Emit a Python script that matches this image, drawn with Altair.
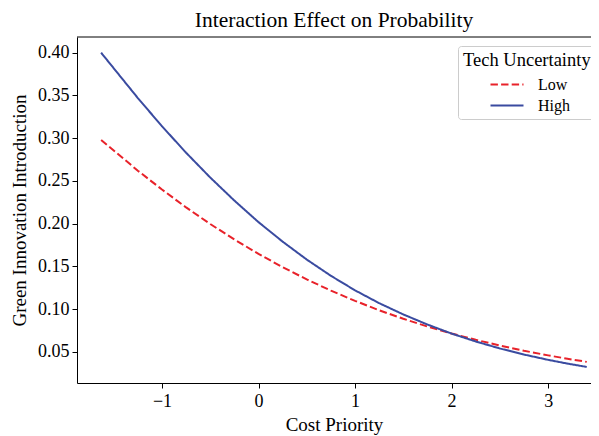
import altair as alt
import pandas as pd

cost_priority = [-1.63, -1.25, -1.0, -0.75, -0.5, -0.25, 0.0, 0.25, 0.5, 0.75, 1.0,
                 1.25, 1.5, 1.75, 2.0, 2.25, 2.5, 2.75, 3.0, 3.2, 3.4]
low_vals = [0.298, 0.262, 0.240, 0.219, 0.1996, 0.1815, 0.1647, 0.1491, 0.1348, 0.1217,
            0.1097, 0.0987, 0.0887, 0.0797, 0.0715, 0.0641, 0.0574, 0.0513, 0.0459, 0.0420, 0.0383]
high_vals = [0.400, 0.347, 0.314, 0.283, 0.254, 0.227, 0.2018, 0.179, 0.158, 0.139,
             0.122, 0.107, 0.0938, 0.0820, 0.0714, 0.0622, 0.0540, 0.0469, 0.0407, 0.0363, 0.0324]
series_names = ["Low", "High"]
series_colors = ["#e8222a", "#3a4ba0"]
x_ticks = [-1, 0, 1, 2, 3]
y_ticks = [0.05, 0.10, 0.15, 0.20, 0.25, 0.30, 0.35, 0.40]
x_domain = [-1.88, 3.444]
y_domain = [0.0136, 0.4184]

rows = []
for name, vals in zip(series_names, [low_vals, high_vals]):
    for xv, yv in zip(cost_priority, vals):
        rows.append({"x": xv, "y": yv, "series": name})
df = pd.DataFrame(rows)

FONT = "Liberation Serif"

xscale = alt.Scale(domain=x_domain, nice=False, zero=False)
yscale = alt.Scale(domain=y_domain, nice=False, zero=False)

legend = alt.Legend(title="Tech Uncertainty", orient="none",
                    legendX=381, legendY=9,
                    symbolType="M-1.5,0H1.5", symbolSize=484,
                    symbolStrokeWidth=2, symbolOffset=32,
                    labelFontSize=16, titleFontSize=18.5,
                    titleFontWeight="normal",
                    fillColor="white", strokeColor="#cccccc",
                    cornerRadius=3, padding=5, rowPadding=1,
                    titlePadding=3, labelOffset=19)

lines = alt.Chart(df).mark_line(strokeWidth=2, clip=True).encode(
    x=alt.X("x:Q", scale=xscale,
            axis=alt.Axis(title="Cost Priority", values=x_ticks, format="d",
                          grid=False, domainColor="black", tickColor="black",
                          tickSize=5, labelPadding=4, titlePadding=5,
                          labelFontSize=18, titleFontSize=19)),
    y=alt.Y("y:Q", scale=yscale,
            axis=alt.Axis(title="Green Innovation Introduction", values=y_ticks,
                          format=".2f", grid=False, domainColor="black",
                          tickColor="black", tickSize=5, labelPadding=3,
                          titlePadding=8, labelFontSize=18, titleFontSize=19)),
    color=alt.Color("series:N",
                    scale=alt.Scale(domain=series_names, range=series_colors),
                    sort=series_names, legend=legend),
    strokeDash=alt.StrokeDash("series:N",
                              scale=alt.Scale(domain=series_names,
                                              range=[[7.4, 3.2], [1, 0]]),
                              sort=series_names, legend=legend),
)

frame_df = pd.DataFrame({"x0": [x_domain[0]], "x1": [x_domain[1]], "ytop": [y_domain[1]]})
top_spine = alt.Chart(frame_df).mark_rule(color="black", strokeWidth=1).encode(
    x=alt.X("x0:Q", scale=xscale),
    x2="x1:Q",
    y=alt.Y("ytop:Q", scale=yscale),
)

chart = alt.layer(lines, top_spine).properties(
    width=514, height=346,
    title=alt.TitleParams("Interaction Effect on Probability", fontSize=21.5,
                          font=FONT, fontWeight="normal", offset=5, color="black"),
    autosize=alt.AutoSizeParams(type="none"),
    padding={"left": 69, "top": 29, "right": 0, "bottom": 53},
).configure_view(stroke=None).configure_axis(
    labelFont=FONT, titleFont=FONT, labelColor="black", titleColor="black",
    titleFontWeight="normal", domainWidth=1,
).configure_legend(
    labelFont=FONT, titleFont=FONT, labelColor="black", titleColor="black",
)

chart.save("out.html", embed_options={"renderer": "svg", "actions": False})
